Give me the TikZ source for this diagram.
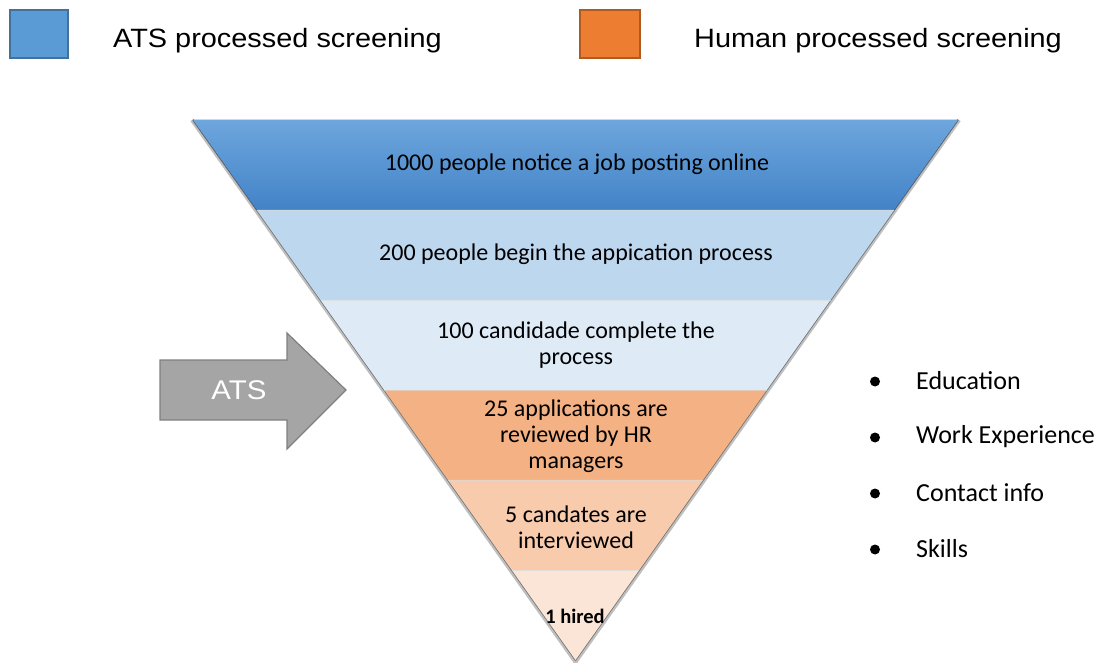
\documentclass[tikz,border=0pt]{standalone}
\usepackage{fontspec}
\setmainfont{Carlito}
\newfontfamily\listfont{Carlito}
\newfontfamily\arialf{Liberation Sans}[FakeStretch=1.09]
\usetikzlibrary{calc}
\definecolor{legblue}{HTML}{5B9BD5}
\definecolor{legblueb}{HTML}{41719C}
\definecolor{legorange}{HTML}{ED7D31}
\definecolor{legorangeb}{HTML}{AE5A21}
\definecolor{bandAtop}{HTML}{6EA6DD}
\definecolor{bandAbot}{HTML}{4283C7}
\definecolor{bandB}{HTML}{BDD7EE}
\definecolor{bandC}{HTML}{DEEBF7}
\definecolor{bandD}{HTML}{F4B183}
\definecolor{bandE}{HTML}{F8CBAD}
\definecolor{bandF}{HTML}{FBE5D6}
\definecolor{arrowfill}{HTML}{A5A5A5}
\definecolor{arrowedge}{HTML}{7F7F7F}
\tikzset{
  legbox/.style={line width=1.5pt},
  legtext/.style={font=\arialf\fontsize{26.5}{31}\selectfont, anchor=base west, inner sep=0},
  bandtext/.style={font=\fontsize{24}{26}\selectfont, align=center, inner sep=0, text=black},
  listtext/.style={font=\listfont\fontsize{26}{30}\selectfont, anchor=west, inner sep=0},
  bulletdot/.style={circle, fill=black, minimum size=10pt, inner sep=0},
  sepline/.style={white!85!black, line width=0.8pt, opacity=0.6},
}
\begin{document}
\begin{tikzpicture}[x=1pt,y=-1pt]
\useasboundingbox (0,0) rectangle (1106,663);
% legend
\draw[legbox, fill=legblue, draw=legblueb] (10,10) rectangle (68,58);
\node[legtext] (legA) at (113,48) {ATS processed screening};
\draw[legbox, fill=legorange, draw=legorangeb] (580,10) rectangle (640,58);
\node[legtext] (legH) at (694,48) {Human processed screening};
% funnel
\coordinate (TL) at (193,120);
\coordinate (TR) at (958,120);
\coordinate (AP) at (575.5,660);
% shadow
\draw[black!25, line width=4pt, line join=round] ($(TL)+(-1,0)$) -- ($(AP)+(0,2)$) -- ($(TR)+(1,0)$);
\draw[black!55, line width=1.6pt, line join=round] (TL) -- (AP) -- (TR);
% bands
\fill[top color=bandAtop, bottom color=bandAbot] (TL) -- (TR) -- ($(TR)!1/6!(AP)$) -- ($(TL)!1/6!(AP)$) -- cycle;
\fill[bandB] ($(TL)!1/6!(AP)$) -- ($(TR)!1/6!(AP)$) -- ($(TR)!2/6!(AP)$) -- ($(TL)!2/6!(AP)$) -- cycle;
\fill[bandC] ($(TL)!2/6!(AP)$) -- ($(TR)!2/6!(AP)$) -- ($(TR)!3/6!(AP)$) -- ($(TL)!3/6!(AP)$) -- cycle;
\fill[bandD] ($(TL)!3/6!(AP)$) -- ($(TR)!3/6!(AP)$) -- ($(TR)!4/6!(AP)$) -- ($(TL)!4/6!(AP)$) -- cycle;
\fill[bandE] ($(TL)!4/6!(AP)$) -- ($(TR)!4/6!(AP)$) -- ($(TR)!5/6!(AP)$) -- ($(TL)!5/6!(AP)$) -- cycle;
\fill[bandF] ($(TL)!5/6!(AP)$) -- ($(TR)!5/6!(AP)$) -- (AP) -- cycle;
\foreach \k in {1,2,3,4,5}{
  \draw[sepline] ($(TL)!\k/6!(AP)$) -- ($(TR)!\k/6!(AP)$);
}
% band texts
\node[bandtext] (t1) at (577,164) {1000 people notice a job posting online};
\node[bandtext] (t2) at (576,254) {200 people begin the appication process};
\node[bandtext] (t3) at (576,345) {100 candidade complete the\\process};
\node[bandtext] (t4) at (576,436) {25 applications are\\reviewed by HR\\managers};
\node[bandtext] (t5) at (576,527) {5 candates are\\interviewed};
\node[bandtext, font=\bfseries\fontsize{20.5}{24}\selectfont] (t6) at (575,616) {1 hired};
% ATS arrow
\draw[fill=arrowfill, draw=arrowedge, line width=1.2pt, line join=miter]
  (160,360) -- (287,360) -- (287,333) -- (346,390) -- (287,449) -- (287,420) -- (160,420) -- cycle;
\node[font=\arialf\fontsize{27}{32}\selectfont, text=white, inner sep=0] (ats) at (239,390) {ATS};
% bullet list
\node[bulletdot] (b1) at (875,381.5) {};
\node[listtext] (l1) at (916,381) {Education};
\node[bulletdot] (b2) at (875,437.5) {};
\node[listtext] (l2) at (916,437) {Work Experience};
\node[bulletdot] (b3) at (875,493.5) {};
\node[listtext] (l3) at (916,493) {Contact info};
\node[bulletdot] (b4) at (875,549.5) {};
\node[listtext] (l4) at (916,549) {Skills};
\end{tikzpicture}
\end{document}
